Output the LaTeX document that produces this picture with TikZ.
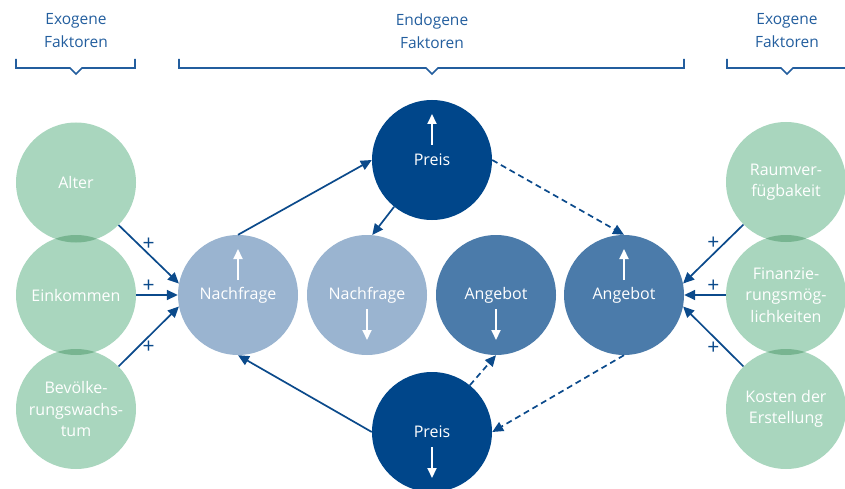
\documentclass[tikz,border=0pt]{standalone}
\usepackage{fontspec}
\setmainfont{Open Sans}
\usetikzlibrary{arrows.meta}
\definecolor{gr}{HTML}{A9D6BE}
\definecolor{grdark}{HTML}{78B591}
\definecolor{pdark}{HTML}{00468A}
\definecolor{plight}{HTML}{9AB4D0}
\definecolor{pmed}{HTML}{4B7BAA}
\definecolor{arr}{HTML}{0B4A8B}
\definecolor{hdr}{HTML}{235E9E}
\tikzset{
  circ/.style={circle,minimum size=120pt,inner sep=0pt,text=white,font=\fontsize{16}{21.5}\selectfont,align=center},
  exo/.style={circ,fill=gr},
  conn/.style={draw=arr,line width=1.7pt,-{Triangle[length=11pt,width=10pt]}},
  dconn/.style={conn,dash pattern=on 6pt off 4pt},
  warr/.style={draw=white,line width=2pt,-{Triangle[length=10pt,width=9pt]}},
  plus/.style={text=arr,font=\fontsize{21}{21}\selectfont,inner sep=0pt},
  hdrtxt/.style={text=hdr,font=\fontsize{15.5}{23}\selectfont,align=center},
  brack/.style={draw=hdr,line width=1.7pt}
}
\begin{document}
\begin{tikzpicture}[x=1pt,y=-1pt]
\useasboundingbox (0,0) rectangle (845,489);
% headers
\node[hdrtxt] (h1) at (76,31) {Exogene\\Faktoren};
\node[hdrtxt] (h2) at (432,31) {Endogene\\Faktoren};
\node[hdrtxt] (h3) at (787,31) {Exogene\\Faktoren};
\draw[brack] (16,59) -- (16,68) -- (70,68) -- (76,74) -- (82,68) -- (135,68) -- (135,59);
\draw[brack] (179,59) -- (179,68) -- (426,68) -- (432,74) -- (438,68) -- (684,68) -- (684,59);
\draw[brack] (727,59) -- (727,68) -- (781,68) -- (787,74) -- (793,68) -- (846,68);
% exogenous left
\node[exo] (alter) at (76,182.5) {Alter};
\node[exo] (eink) at (76,295) {Einkommen};
\node[exo] (bev) at (76,409) {Bevölke-\\rungswachs-\\tum};
\begin{scope}\clip (76,182.5) circle (60pt); \fill[grdark] (76,295) circle (60pt);\end{scope}
\begin{scope}\clip (76,295) circle (60pt); \fill[grdark] (76,409) circle (60pt);\end{scope}
% exogenous right
\node[exo] (raum) at (786,182) {Raumver-\\fügbakeit};
\node[exo] (fin) at (786,295) {Finanzie-\\rungsmög-\\lichkeiten};
\node[exo] (kost) at (786,409) {Kosten der\\Erstellung};
\begin{scope}\clip (786,182) circle (60pt); \fill[grdark] (786,295) circle (60pt);\end{scope}
\begin{scope}\clip (786,295) circle (60pt); \fill[grdark] (786,409) circle (60pt);\end{scope}
% endogenous
\node[circ,fill=pdark] (pt) at (432,160) {Preis};
\node[circ,fill=plight] (nu) at (238,295) {Nachfrage};
\node[circ,fill=plight] (nd) at (367,295) {Nachfrage};
\node[circ,fill=pmed] (ad) at (496,295) {Angebot};
\node[circ,fill=pmed] (au) at (624,295) {Angebot};
\node[circ,fill=pdark] (pb) at (432,432) {Preis};
% white arrows
\draw[warr] ([yshift=15pt]pt.center) -- ([yshift=46pt]pt.center);
\draw[warr] ([yshift=15pt]nu.center) -- ([yshift=46pt]nu.center);
\draw[warr] ([yshift=15pt]au.center) -- ([yshift=46pt]au.center);
\draw[warr] ([yshift=-14pt]nd.center) -- ([yshift=-45pt]nd.center);
\draw[warr] ([yshift=-14pt]ad.center) -- ([yshift=-45pt]ad.center);
\draw[warr] ([yshift=-15pt]pb.center) -- ([yshift=-46pt]pb.center);
% endogenous connectors
\draw[conn] (nu.north) -- (pt.west);
\draw[conn] (pt.231) -- (nd.85);
\draw[dconn] (pt.east) -- (au.north);
\draw[conn] (pb.west) -- (nu.south);
\draw[dconn] (pb.51) -- (ad.south);
\draw[dconn] (au.south) -- (pb.east);
% exogenous connectors
\draw[conn] (alter.-45) -- node[plus,pos=0.5,yshift=10pt] {+} (nu.169);
\draw[conn] (eink.east) -- node[plus,pos=0.3,yshift=9pt] {+} (nu.west);
\draw[conn] (bev.45) -- node[plus,pos=0.5,yshift=-11pt] {+} (nu.191);
\draw[conn] (raum.225) -- node[plus,pos=0.5,yshift=11pt] {+} (au.11);
\draw[conn] (fin.west) -- node[plus,pos=0.3,yshift=9pt] {+} (au.east);
\draw[conn] (kost.135) -- node[plus,pos=0.5,yshift=-12pt] {+} (au.349);
\end{tikzpicture}
\end{document}
